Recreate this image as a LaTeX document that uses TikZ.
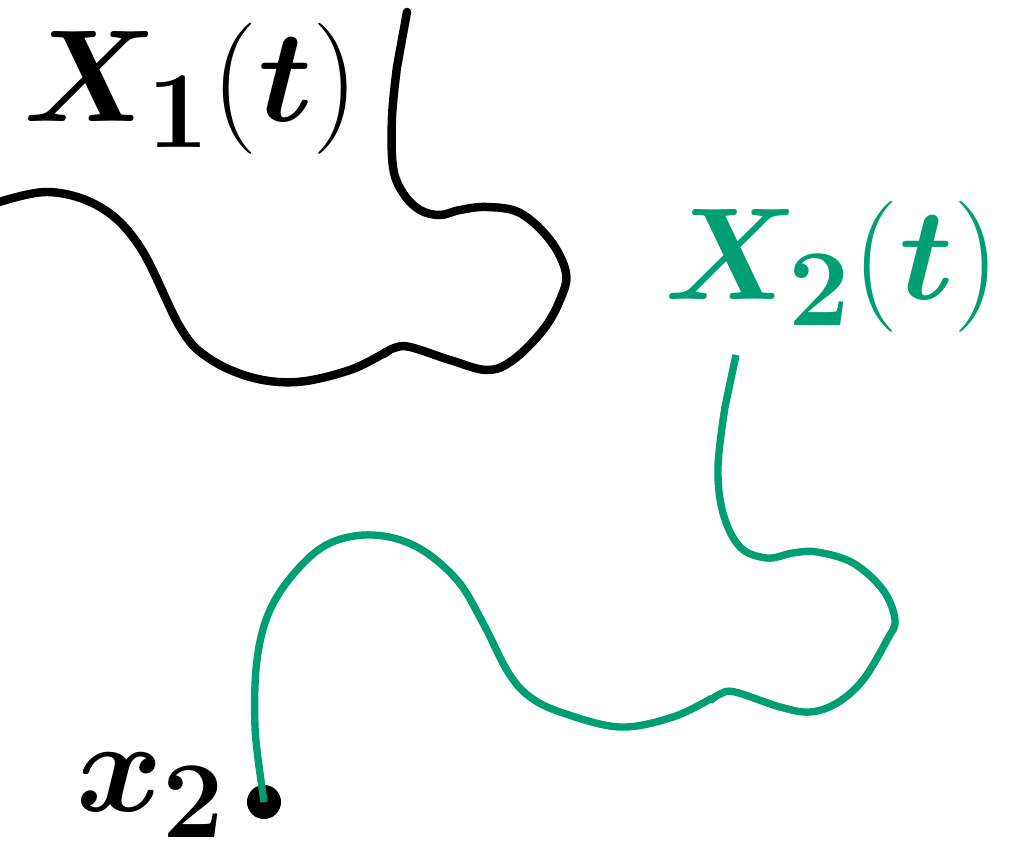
\documentclass[tikz,border=0pt]{standalone}
\usepackage{amsmath,bm}
\definecolor{pathgreen}{RGB}{0,158,115}
\begin{document}
\begin{tikzpicture}[x=0.01cm,y=-0.01cm,
  lbl/.style={anchor=base west,inner sep=0pt,font=\Huge,scale=1.5},
  blackpath/.style={draw=black,line width=2.4pt,line cap=round},
  greenpath/.style={draw=pathgreen,line width=2.1pt,line cap=butt},
  startdot/.style={circle,fill=black,minimum size=0.34cm,inner sep=0pt}]
\useasboundingbox (0,0) rectangle (1011,849);
% labels
\node[lbl] (l1) at (22,122) {$\bm{X}_{\bm{1}}(\bm{t})$};
\node[lbl,text=pathgreen] (l2) at (663,300) {$\bm{X}_{\bm{2}}(\bm{t})$};
\node[lbl] (l3) at (75,812) {$\bm{x}_{\bm{2}}$};
% start point
\node[startdot] (x2) at (264,802) {};
\coordinate (g1) at (736,355);
\coordinate (b1) at (407,12);
% black path X1
\draw[blackpath] plot[smooth,tension=0.6] coordinates {(-10,205) (47,192) (100,207) (140,247) (180,327) (207,357) (250,377) (297,382) (350,370) (386,352)};
\draw[blackpath] plot[smooth,tension=0.6] coordinates {(384,354) (394,348) (410,347) (450,360) (487,370) (513,360) (543,330) (560,300) (566,273) (550,240) (520,213) (487,207) (460,210) (440,215) (420,210) (403,193) (393,167) (392,117) (397,67)} -- (b1);
% green path X2
\draw[greenpath] (x2.center) -- plot[smooth,tension=0.6] coordinates {(262,787) (255,727) (257,660) (270,610) (297,570) (330,543) (373,535) (417,547) (457,580) (483,623) (508,672) (530,697) (563,713) (620,727) (673,717) (712,698)};
\draw[greenpath] plot[smooth,tension=0.6] coordinates {(710,701) (720,694) (735,692) (780,707) (810,712) (837,703) (863,680) (887,640) (895,620) (883,590) (853,563) (817,552) (793,553) (767,558) (740,547) (723,513) (718,467) (725,407)} -- (g1);
\end{tikzpicture}
\end{document}
